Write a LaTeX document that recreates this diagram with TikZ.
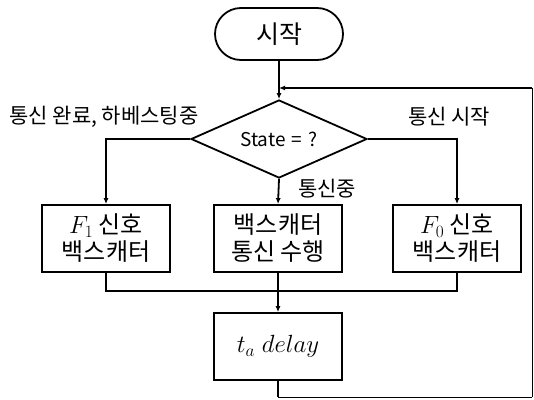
\documentclass[tikz,border=0pt]{standalone}
\usepackage{fontspec}
\setmainfont{Noto Sans CJK KR}
\usetikzlibrary{arrows.meta,shapes.geometric}
\begin{document}
\begin{tikzpicture}[x=1pt,y=-1pt,
  line/.style={line width=1.8pt},
  arr/.style={line, -{Latex[length=6pt,width=5pt]}},
  box/.style={draw, line width=1.8pt, minimum width=128pt, minimum height=67pt, align=center, font=\fontsize{24}{27}\selectfont, inner sep=0pt},
  term/.style={draw, line width=1.8pt, rounded corners=26pt, minimum width=128pt, minimum height=52pt, font=\fontsize{25}{27}\selectfont},
  dia/.style={draw, diamond, line width=1.8pt, aspect=2.3, minimum width=176pt, minimum height=78pt, inner sep=0pt, font=\fontsize{19}{21}\selectfont},
  lab/.style={font=\fontsize{21}{23}\selectfont, inner sep=1pt}]
\useasboundingbox (0,0) rectangle (534,399);
\node[term] (start) at (279,34) {시작};
\node[dia] (dec) at (279,139) {};
\node at (279,139) {\fontsize{19}{21}\selectfont State\,\,=\,\,?};
\node[box] (b1) at (106,238.5) {$F_1$ 신호\\백스캐터};
\node[box] (b2) at (278,238.5) {백스캐터\\통신 수행};
\node[box] (b3) at (457,238.5) {$F_0$ 신호\\백스캐터};
\node[box] (d) at (278,346.5) {$t_a\;delay$};
\coordinate (j) at (279,88);
\coordinate (m) at (278,291);
\draw[line] (start.south) -- (279,88);
\draw[arr] (j) -- (dec.north);
\draw[arr] (dec.west) -| (b1.north);
\draw[arr] (dec.east) -| (b3.north);
\draw[arr] (dec.south) -- (b2.north);
\draw[line] (b1.south) |- (m);
\draw[line] (b3.south) |- (m);
\draw[line] (b2.south) -- (m);
\draw[arr] (m) -- (d.north);
\draw[line] (d.south) -- (278,397);
\draw[line width=1pt] (278,397) -- (532,397);
\draw[line width=1pt] (532,397) -- (532,88);
\draw[line, -{Latex[length=6pt,width=5pt]}] (532,88) -- (j);
\node[lab] at (104,117) {통신 완료, 하베스팅중};
\node[lab] at (449,117) {통신 시작};
\node[lab] at (327,189) {통신중};
\end{tikzpicture}
\end{document}
